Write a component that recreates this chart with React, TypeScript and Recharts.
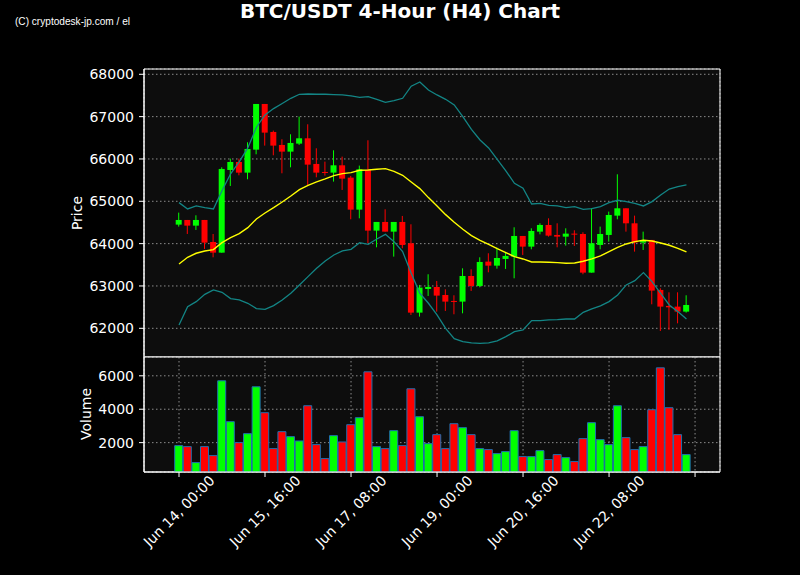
import React from "react";
import { ComposedChart, Bar, Line, XAxis, YAxis, CartesianGrid, Cell, ReferenceArea } from "recharts";

// 4h candles, Jun 14 00:00 .. Jun 23 20:00
const opens = [64449, 64559, 64425, 64559, 64039, 63787, 65740, 65929, 65677, 66220, 67299, 66638, 66331, 66173, 66362, 66488, 65882, 65693, 65677, 65850, 65559, 64803, 65740, 64307, 64512, 64283, 64512, 64008, 62370, 62929, 62976, 62787, 62646, 62630, 63236, 63000, 63575, 63480, 63638, 63693, 64181, 63929, 64283, 64441, 64205, 64165, 64236, 64228, 63315, 63969, 64205, 64661, 64835, 64480, 64024, 64087, 62906, 62528, 62512, 62394];
const highs = [64732, 64559, 64669, 64559, 64228, 65803, 66008, 66008, 66394, 67299, 67299, 66669, 66465, 66583, 67000, 66819, 66252, 65937, 66205, 66055, 65600, 65843, 66441, 64512, 64811, 64512, 64654, 64457, 63024, 63276, 63118, 62921, 62780, 63417, 63394, 63677, 63772, 63906, 63803, 64386, 64181, 64362, 64480, 64598, 64480, 64362, 64315, 64268, 64835, 64402, 64756, 65638, 64835, 64661, 64283, 64087, 62945, 62850, 62850, 62780];
const lows = [64402, 64228, 64323, 63874, 63677, 63787, 65362, 65614, 65520, 66110, 66315, 66087, 65661, 65803, 66331, 65386, 65567, 65606, 65465, 65268, 64575, 64598, 64008, 63913, 64283, 63693, 63890, 62315, 62276, 62764, 62394, 62409, 62331, 62354, 62882, 62969, 63323, 63409, 63402, 63181, 63732, 63866, 64220, 64165, 63913, 63953, 63945, 63276, 63315, 63866, 64047, 64575, 64283, 63811, 63850, 62567, 61937, 61961, 62118, 62370];
const closes = [64559, 64425, 64559, 64024, 63787, 65764, 65929, 65677, 66236, 67299, 66622, 66315, 66173, 66378, 66488, 65866, 65677, 65677, 65850, 65535, 64803, 65756, 64307, 64512, 64283, 64512, 63969, 62370, 62961, 62976, 62772, 62630, 62630, 63236, 63000, 63567, 63480, 63661, 63709, 64181, 63929, 64299, 64441, 64189, 64165, 64236, 64213, 63315, 64008, 64228, 64677, 64835, 64480, 64024, 64087, 62890, 62512, 62496, 62394, 62551];
const volumes = [1821, 1761, 806, 1761, 1224, 5701, 3254, 2000, 2537, 5343, 3791, 1642, 2657, 2358, 2100, 4209, 1881, 1045, 2418, 2040, 3075, 3493, 6239, 1761, 1642, 2716, 1821, 5224, 3552, 1940, 2478, 1642, 3134, 2896, 2478, 1642, 1582, 1343, 1463, 2716, 1164, 1164, 1522, 985, 1284, 1104, 866, 2239, 3194, 2179, 1881, 4209, 2299, 1582, 1761, 3970, 6478, 4090, 2478, 1284];
const sma20 = [63520, 63677, 63772, 63827, 63858, 64024, 64142, 64236, 64378, 64583, 64724, 64850, 64984, 65126, 65276, 65378, 65457, 65528, 65606, 65654, 65677, 65732, 65740, 65756, 65772, 65709, 65614, 65457, 65299, 65087, 64890, 64685, 64504, 64339, 64189, 64079, 63984, 63882, 63787, 63693, 63638, 63567, 63567, 63559, 63551, 63535, 63543, 63583, 63638, 63709, 63811, 63913, 63992, 64047, 64079, 64063, 64016, 63961, 63890, 63803];
const bbUpper = [64969, 64819, 64890, 64850, 64819, 65250, 65650, 65930, 66260, 66750, 67040, 67190, 67310, 67433, 67528, 67535, 67528, 67528, 67520, 67512, 67488, 67457, 67472, 67409, 67339, 67378, 67433, 67720, 67819, 67630, 67512, 67409, 67276, 67000, 66701, 66449, 66260, 65992, 65720, 65425, 65307, 64937, 64953, 64906, 64890, 64850, 64874, 64811, 64827, 64874, 64969, 65024, 64992, 64953, 64890, 64992, 65150, 65290, 65346, 65386];
const bbLower = [62079, 62512, 62630, 62803, 62906, 62850, 62701, 62669, 62591, 62465, 62449, 62535, 62669, 62827, 63024, 63220, 63417, 63591, 63732, 63827, 63866, 64024, 63984, 64110, 64220, 64047, 63811, 63299, 62827, 62591, 62315, 62000, 61756, 61685, 61654, 61646, 61654, 61701, 61803, 61921, 61961, 62181, 62181, 62197, 62205, 62220, 62220, 62378, 62457, 62528, 62630, 62787, 63024, 63126, 63315, 63102, 62827, 62551, 62394, 62220];

const xTicks = [0, 10, 20, 30, 40, 50, 60];
const xTickLabels = ["Jun 14, 00:00", "Jun 15, 16:00", "Jun 17, 08:00", "Jun 19, 00:00", "Jun 20, 16:00", "Jun 22, 08:00", ""];
const priceTicks = [62000, 63000, 64000, 65000, 66000, 67000, 68000];
const volumeTicks = [2000, 4000, 6000];

const X_DOMAIN: [number, number] = [-4.07, 62.9];
const PRICE_DOMAIN: [number, number] = [61322, 68125];
const VOL_DOMAIN: [number, number] = [242, 7126];

const UP = "#00ff00";
const DOWN = "#ff0000";
const GRID = "#8c8c8c";
const FONT = "DejaVu Sans";

const data = opens.map((o, i) => ({
  i,
  open: o,
  high: highs[i],
  low: lows[i],
  close: closes[i],
  range: [lows[i], highs[i]],
  volume: volumes[i],
  sma: sma20[i],
  upper: bbUpper[i],
  lower: bbLower[i],
}));

function Candle(props: any) {
  const { x, y, width, height, payload } = props;
  const { open, close, high, low } = payload;
  const color = close >= open ? UP : DOWN;
  const top = Math.min(y, y + height);
  const h = Math.abs(height);
  const k = h / (high - low || 1);
  const bodyTop = top + (high - Math.max(open, close)) * k;
  const bodyH = Math.max(Math.abs(open - close) * k, 1);
  const cx = x + width / 2;
  return (
    <g>
      <line x1={cx} x2={cx} y1={top} y2={top + h} stroke={color} strokeWidth={1} />
      <rect x={x} y={bodyTop} width={width} height={bodyH} fill={color} />
    </g>
  );
}

function XTick(props: any) {
  const { x, y, payload } = props;
  const label = xTickLabels[xTicks.indexOf(payload.value)] || "";
  const cy = y + 32;
  return (
    <text x={x} y={cy} transform={`rotate(-45 ${x} ${cy})`} textAnchor="middle" dominantBaseline="central"
      fill="#fff" fontSize={14} fontFamily={FONT}>
      {label}
    </text>
  );
}

const yTickStyle = { fill: "#fff", fontSize: 14, fontFamily: FONT };

export default function App() {
  return (
    <div style={{ position: "absolute", left: 0, top: 0, width: 800, height: 575, background: "#000" }}>
      <div style={{ position: "absolute", left: 0, top: 0 }}>
        <ComposedChart width={800} height={575} data={data} margin={{ top: 69, right: 80, bottom: 218, left: 84 }}>
          <CartesianGrid stroke={GRID} strokeDasharray="1.5 2.5" fill="#0d0d0d" />
          <XAxis type="number" dataKey="i" domain={X_DOMAIN} ticks={xTicks} allowDataOverflow
            height={0} tick={false} tickLine={false} axisLine={{ stroke: "#fff" }} />
          <YAxis type="number" domain={PRICE_DOMAIN} ticks={priceTicks} allowDataOverflow width={60}
            tick={yTickStyle} tickSize={5} tickMargin={5} tickLine={{ stroke: "#fff" }} axisLine={{ stroke: "#fff" }} />
          <Line dataKey="upper" stroke="#138585" strokeWidth={1.3} dot={false} isAnimationActive={false} />
          <Line dataKey="lower" stroke="#138585" strokeWidth={1.3} dot={false} isAnimationActive={false} />
          <Bar dataKey="range" barSize={6} shape={<Candle />} isAnimationActive={false} />
          <Line dataKey="sma" stroke="#ffff00" strokeWidth={1.4} dot={false} isAnimationActive={false} />
          <ReferenceArea x1={X_DOMAIN[0]} x2={X_DOMAIN[1]} y1={PRICE_DOMAIN[0]} y2={PRICE_DOMAIN[1]}
            fill="none" stroke="#fff" strokeWidth={1} ifOverflow="visible" />
        </ComposedChart>
      </div>
      <div style={{ position: "absolute", left: 0, top: 0 }}>
        <ComposedChart width={800} height={575} data={data} margin={{ top: 357, right: 80, bottom: 3, left: 84 }}>
          <CartesianGrid stroke={GRID} strokeDasharray="1.5 2.5" fill="#0d0d0d" />
          <XAxis type="number" dataKey="i" domain={X_DOMAIN} ticks={xTicks} allowDataOverflow interval={0}
            height={100} tick={<XTick />} tickSize={5} tickLine={{ stroke: "#fff" }} axisLine={{ stroke: "#fff" }} />
          <YAxis type="number" domain={VOL_DOMAIN} ticks={volumeTicks} allowDataOverflow width={60}
            tick={yTickStyle} tickSize={5} tickMargin={5} tickLine={{ stroke: "#fff" }} axisLine={{ stroke: "#fff" }} />
          <Bar dataKey="volume" barSize={8} stroke="#1f6fb0" strokeWidth={1} isAnimationActive={false}>
            {data.map((d) => (
              <Cell key={d.i} fill={d.close >= d.open ? UP : DOWN} />
            ))}
          </Bar>
          <ReferenceArea x1={X_DOMAIN[0]} x2={X_DOMAIN[1]} y1={VOL_DOMAIN[0]} y2={VOL_DOMAIN[1]}
            fill="none" stroke="#fff" strokeWidth={1} ifOverflow="visible" />
        </ComposedChart>
      </div>
      <svg width={800} height={575} style={{ position: "absolute", left: 0, top: 0, pointerEvents: "none" }}>
        <text x={400} y={17.5} textAnchor="middle" fill="#fff" fontSize={20} fontWeight="bold" fontFamily={FONT}>
          BTC/USDT 4-Hour (H4) Chart
        </text>
        <text x={15} y={25} fill="#fff" fontSize={11.5} fontFamily="Liberation Sans Narrow, Liberation Sans, Arial"
          textLength={115} lengthAdjust="spacingAndGlyphs">
          (C) cryptodesk-jp.com / el
        </text>
        <text x={77} y={213} transform="rotate(-90 77 213)" textAnchor="middle" dominantBaseline="central"
          fill="#fff" fontSize={14} fontFamily={FONT}>
          Price
        </text>
        <text x={86} y={414} transform="rotate(-90 86 414)" textAnchor="middle" dominantBaseline="central"
          fill="#fff" fontSize={14} fontFamily={FONT}>
          Volume
        </text>
      </svg>
    </div>
  );
}
